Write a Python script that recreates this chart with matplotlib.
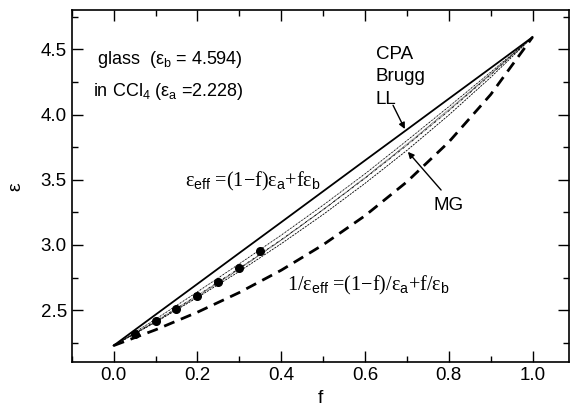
import numpy as np
from matplotlib import pyplot as plt

plt.rcParams['font.family'] = ['Liberation Sans', 'DejaVu Sans']
plt.rcParams['mathtext.fontset'] = 'custom'
plt.rcParams['mathtext.rm'] = 'Liberation Sans'

# volume fraction grid
f = [0.0, 0.1, 0.2, 0.3, 0.4, 0.5, 0.6, 0.7, 0.8, 0.9, 1.0]
eps_lin = [2.228, 2.465, 2.701, 2.938, 3.174, 3.411, 3.648, 3.884, 4.121, 4.357, 4.594]
eps_inv = [2.228, 2.349, 2.484, 2.635, 2.806, 3.001, 3.224, 3.484, 3.789, 4.153, 4.594]
eps_cpa = [2.228, 2.430, 2.640, 2.855, 3.075, 3.305, 3.545, 3.800, 4.060, 4.325, 4.594]
eps_brugg = [2.228, 2.410, 2.605, 2.814, 3.036, 3.270, 3.516, 3.772, 4.038, 4.312, 4.594]
eps_ll = [2.228, 2.415, 2.613, 2.821, 3.040, 3.270, 3.511, 3.764, 4.028, 4.305, 4.594]
eps_mg = [2.228, 2.407, 2.597, 2.797, 3.009, 3.233, 3.472, 3.725, 3.996, 4.285, 4.594]

# measured points
f_meas = [0.05, 0.10, 0.15, 0.20, 0.25, 0.30, 0.35]
eps_meas = [2.315, 2.413, 2.51, 2.61, 2.715, 2.825, 2.95]

fig = plt.figure(figsize=(5.7, 4.15), dpi=100)
ax = fig.add_axes([0.1258, 0.127, 0.8725, 0.8484])

ax.plot(f, eps_lin, color='black', lw=1.3)
ax.plot(f, eps_inv, color='black', lw=2.0, dashes=(4, 2.5))
ax.plot(f, eps_cpa, color='black', lw=0.6, dashes=(2, 0.8, 0.5, 0.8))
ax.plot(f, eps_brugg, color='black', lw=0.6, dashes=(0.8, 0.8))
ax.plot(f, eps_ll, color='black', lw=0.6, dashes=(3, 1, 0.5, 1, 0.5, 1))
ax.plot(f, eps_mg, color='black', lw=0.6, dashes=(2.5, 1.2))
ax.plot(f_meas, eps_meas, 'o', color='black', ms=5.5)

ax.set_xlim(-0.1, 1.087)
ax.set_ylim(2.1, 4.8)
ax.set_xticks([0.0, 0.2, 0.4, 0.6, 0.8, 1.0])
ax.set_xticks(np.arange(-0.1, 1.05, 0.1), minor=True)
ax.set_yticks([2.5, 3.0, 3.5, 4.0, 4.5])
ax.set_yticks([2.25, 2.75, 3.25, 3.75, 4.25, 4.75], minor=True)
ax.tick_params(which='both', direction='in', top=True, right=True, width=1.0,
               labelsize=13.5)
ax.tick_params(which='major', length=8)
ax.tick_params(which='minor', length=4)
for s in ax.spines.values():
    s.set_linewidth(1.2)

ax.set_xlabel('f', fontsize=14, labelpad=4)
ax.set_ylabel('ε', fontsize=14, labelpad=12)

ax.text(-0.039, 4.425, 'glass  (ε$_\\mathrm{b}$ = 4.594)', fontsize=13, va='center')
ax.text(-0.049, 4.18, 'in CCl$_\\mathrm{4}$ (ε$_\\mathrm{a}$ =2.228)', fontsize=13, va='center')

ax.text(0.171, 3.49, 'ε$_\\mathrm{eff}$ =(1−f)ε$_\\mathrm{a}$+fε$_\\mathrm{b}$',
        fontsize=14.5, va='center', family=['Liberation Serif', 'DejaVu Serif'])
ax.text(0.414, 2.69, '1/ε$_\\mathrm{eff}$ =(1−f)/ε$_\\mathrm{a}$+f/ε$_\\mathrm{b}$',
        fontsize=14.5, va='center', family=['Liberation Serif', 'DejaVu Serif'])

ax.text(0.626, 4.464, 'CPA', fontsize=13.5, va='center')
ax.text(0.626, 4.295, 'Brugg', fontsize=13.5, va='center')
ax.text(0.626, 4.119, 'LL', fontsize=13.5, va='center')
ax.text(0.7625, 3.30, 'MG', fontsize=13.5, va='center')

ax.annotate('', xy=(0.698, 3.87), xytext=(0.664, 4.09),
            arrowprops=dict(arrowstyle='-|>', color='black', lw=1.0, mutation_scale=9))
ax.annotate('', xy=(0.698, 3.73), xytext=(0.786, 3.405),
            arrowprops=dict(arrowstyle='-|>', color='black', lw=1.0, mutation_scale=9))

fig.savefig('out.png', dpi=100)
